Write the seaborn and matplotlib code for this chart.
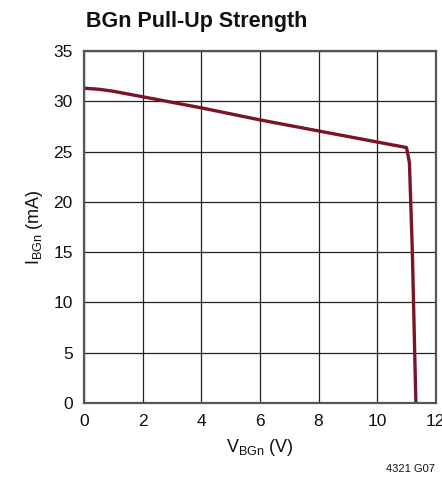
import matplotlib
matplotlib.use("Agg")
import matplotlib.pyplot as plt
import seaborn as sns
import pandas as pd
from matplotlib import font_manager

# Data
v_bgn = [0.0, 0.5, 1.0, 2.0, 3.0, 4.0, 5.0, 6.0, 7.0, 8.0, 9.0, 10.0, 11.0, 11.1, 11.2, 11.28, 11.32]
i_bgn = [31.3, 31.2, 31.0, 30.45, 29.9, 29.35, 28.75, 28.15, 27.6, 27.05, 26.5, 25.95, 25.4, 23.9, 15.0, 5.0, 0.0]
x_ticks = [0, 2, 4, 6, 8, 10, 12]
y_ticks = [0, 5, 10, 15, 20, 25, 30, 35]

sns.set_style("white")
names = {f.name for f in font_manager.fontManager.ttflist}
fam = "Liberation Sans Narrow" if "Liberation Sans Narrow" in names else "Liberation Sans"
plt.rcParams["font.family"] = [fam, "DejaVu Sans"]
plt.rcParams["mathtext.fontset"] = "custom"
plt.rcParams["mathtext.rm"] = fam

df = pd.DataFrame({"V": v_bgn, "I": i_bgn})

fig = plt.figure(figsize=(4.42, 4.86), dpi=100)
ax = fig.add_axes([0.190, 0.171, 0.796, 0.724])
sns.lineplot(data=df, x="V", y="I", ax=ax, color="#7a1428", linewidth=2.4, sort=False,
             estimator=None)

ax.set_xlim(0, 12)
ax.set_ylim(0, 35)
ax.set_xticks(x_ticks)
ax.set_yticks(y_ticks)
ax.tick_params(axis="both", length=0, labelsize=12.5, colors="#111111", pad=8)
ax.grid(True, color="#222222", linewidth=0.9)
ax.set_axisbelow(True)
for s in ax.spines.values():
    s.set_visible(True)
    s.set_color("#555555")
    s.set_linewidth(1.6)

ax.set_xlabel(r"V$_{\mathregular{BGn}}$ (V)", fontsize=13, color="#111111", labelpad=6)
ax.set_ylabel(r"I$_{\mathregular{BGn}}$ (mA)", fontsize=13, color="#111111", labelpad=6)

fig.text(0.195, 0.945, "BGn Pull-Up Strength", fontsize=15.5, fontweight="bold",
         color="#111111", ha="left", va="baseline")
fig.text(0.985, 0.028, "4321 G07", fontsize=8, color="#111111", ha="right", va="baseline")

fig.savefig("out.png", dpi=100)
